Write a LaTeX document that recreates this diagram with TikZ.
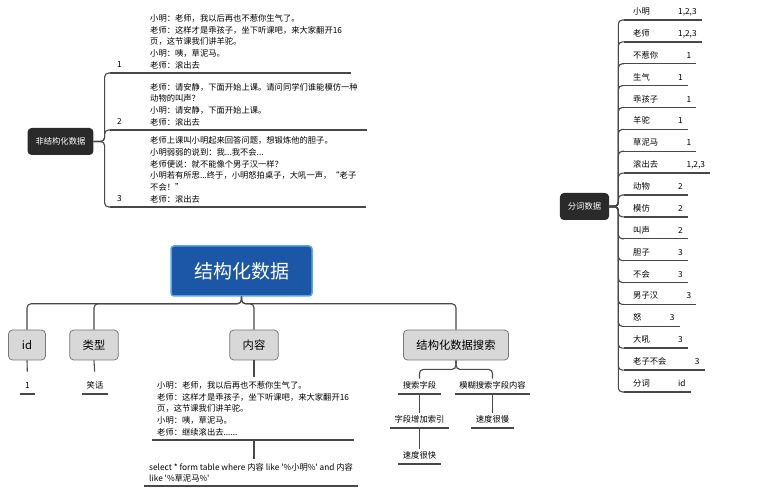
\documentclass[tikz,border=0pt]{standalone}
\usepackage{fontspec}
\setmainfont{Noto Sans CJK SC}
\usepackage{tikz}
\usetikzlibrary{positioning, calc}
\definecolor{mydark}{RGB}{42,42,42}
\definecolor{myline}{RGB}{72,72,72}
\definecolor{myblue}{RGB}{28,86,166}
\definecolor{myblueframe}{RGB}{86,168,230}
\definecolor{mygray}{RGB}{216,216,216}
\definecolor{mgframe}{RGB}{120,120,120}
\tikzset{
  darkbox/.style={rectangle, fill=mydark, text=white, rounded corners=4pt,
    inner xsep=8pt, minimum height=27pt, font=\fontsize{8.3pt}{10pt}\selectfont},
  rootbox/.style={rectangle, draw=myblueframe, fill=myblue, text=white,
    line width=1.5pt, rounded corners=3pt, minimum width=141pt, minimum height=50pt,
    font=\fontsize{19pt}{22pt}\selectfont},
  graybox/.style={rectangle, draw=mgframe, fill=mygray, rounded corners=4pt,
    inner xsep=13pt, minimum width=37pt, minimum height=30pt, line width=0.8pt,
    font=\fontsize{11.3pt}{13pt}\selectfont},
  txt/.style={inner xsep=5pt, inner ysep=4pt, align=left,
    font=\fontsize{8.3pt}{11.7pt}\selectfont},
  word/.style={inner sep=0pt, font=\fontsize{8.3pt}{10pt}\selectfont},
  leaf/.style={inner xsep=4.5pt, inner ysep=3.5pt, text height=6.5pt, text depth=1.5pt,
    font=\fontsize{8.3pt}{10pt}\selectfont},
  line/.style={line width=1.1pt, color=myline, rounded corners=4pt},
  uline/.style={line width=1.4pt, color=myline}
}
\begin{document}
\begin{tikzpicture}[x=1pt, y=-1pt]
  \useasboundingbox (0,0) rectangle (761,502);

  % Unstructured data
  \node[darkbox] (U) at (60.5,141.5) {非结构化数据};
  \coordinate (A1) at (110,73);
  \coordinate (A2) at (110,130);
  \coordinate (A3) at (110,207);

  \node[txt, anchor=south west] (T1) at (145,73) {小明：老师，我以后再也不惹你生气了。\\
    老师：这样才是乖孩子，坐下听课吧，来大家翻开16\\
    页，这节课我们讲羊驼。\\
    小明：咦，草泥马。\\
    老师：滚出去};
  \node[txt, anchor=south west] (T2) at (145,130) {老师：请安静，下面开始上课。请问同学们谁能模仿一种\\
    动物的叫声？\\
    小明：请安静，下面开始上课。\\
    老师：滚出去};
  \node[txt, anchor=south west] (T3) at (145,207) {老师上课叫小明起来回答问题，想锻炼他的胆子。\\
    小明弱弱的说到：我...我不会...\\
    老师便说：就不能像个男子汉一样？\\
    小明若有所思...终于，小明怒拍桌子，大吼一声，“老子\\
    不会！”\\
    老师：滚出去};

  \node[word, anchor=base] (K1) at (119.5,68) {1};
  \node[word, anchor=base] (K2) at (119.5,125) {2};
  \node[word, anchor=base] (K3) at (119.5,202) {3};

  \foreach \i in {1,2,3} {
    \draw[uline] (A\i) -- ($(T\i.south east)+(4,0)$);
    \draw[line] (U.east) -- ++(11,0) |- (A\i);
  }

  % Word list
  \node[darkbox] (P) at (584.5,206.5) {分词数据};
  \foreach \w/\n [count=\i from 0] in {小明/{1,2,3}, 老师/{1,2,3}, 不惹你/1, 生气/1,
      乖孩子/1, 羊驼/1, 草泥马/1, 滚出去/{1,2,3}, 动物/2, 模仿/2, 叫声/2, 胆子/3,
      不会/3, 男子汉/3, 怒/3, 大吼/3, 老子不会/3, 分词/id} {
    \pgfmathsetmacro\yy{20+21.88*\i}
    \coordinate (B\i) at (624,\yy);
    \node[word, anchor=base west] (W\i) at (633,\yy-5.5) {\w};
    \node[word, inner xsep=5pt, base right=23pt of W\i] (Q\i) {\n};
    \draw[uline] (B\i) -- (B\i -| Q\i.east);
    \draw[line] (P.east) -- ++(9,0) |- (B\i);
  }

  % Structured data
  \node[rootbox] (S) at (241.5,271) {结构化数据};
  \node[graybox] (Cid) at (27,345) {id};
  \node[graybox] (Ctype) at (94,345) {类型};
  \node[graybox] (Ccontent) at (254,345) {内容};
  \node[graybox] (Csearch) at (456,345) {结构化数据搜索};
  \foreach \c in {Cid, Ctype, Ccontent, Csearch}
    \draw[line] (S.south) -- ++(0,7) -| (\c.north);

  % Leaves
  \node[leaf, anchor=south] (L1) at (27.5,394) {1};
  \node[leaf, anchor=south] (L2) at (95,394) {笑话};
  \node[leaf, anchor=south] (F1) at (419.5,394) {搜索字段};
  \node[leaf, anchor=south] (F2) at (492.5,394) {模糊搜索字段内容};
  \node[leaf, anchor=south] (F3) at (419.5,428) {字段增加索引};
  \node[leaf, anchor=south] (F4) at (419.5,464) {速度很快};
  \node[leaf, anchor=south] (F5) at (492.5,428) {速度很慢};

  \node[txt, anchor=south west] (TC) at (152,440) {小明：老师，我以后再也不惹你生气了。\\
    老师：这样才是乖孩子，坐下听课吧，来大家翻开16\\
    页，这节课我们讲羊驼。\\
    小明：咦，草泥马。\\
    老师：继续滚出去......};
  \node[txt, anchor=south west, font=\fontsize{8.3pt}{10.5pt}\selectfont] (TQ) at (144,486)
    {select * form table where 内容 like \textquotesingle\%小明\%\textquotesingle{} and 内容\\
    like \textquotesingle\%草泥马\%\textquotesingle};

  \foreach \l in {L1, L2, F1, F2, F3, F4, F5, TC, TQ}
    \draw[uline] (\l.south west) -- (\l.south east);

  \draw[line, shorten >=7pt] (Cid.south) -- (L1.north);
  \draw[line, shorten >=7pt] (Ctype.south) -- (L2.north);
  \draw[line] (Ccontent.south) -- (Ccontent.south |- TC.north);
  \draw[line] (Ccontent.south |- TC.south) -- (Ccontent.south |- TQ.north);
  \draw[line] (Csearch.south) -- ++(0,9) -| (F1.north);
  \draw[line] (Csearch.south) -- ++(0,9) -| (F2.north);
  \draw[line] (F1.south) -- (F3.north);
  \draw[line] (F3.south) -- (F4.north);
  \draw[line] (F2.south) -- (F5.north);
\end{tikzpicture}
\end{document}
